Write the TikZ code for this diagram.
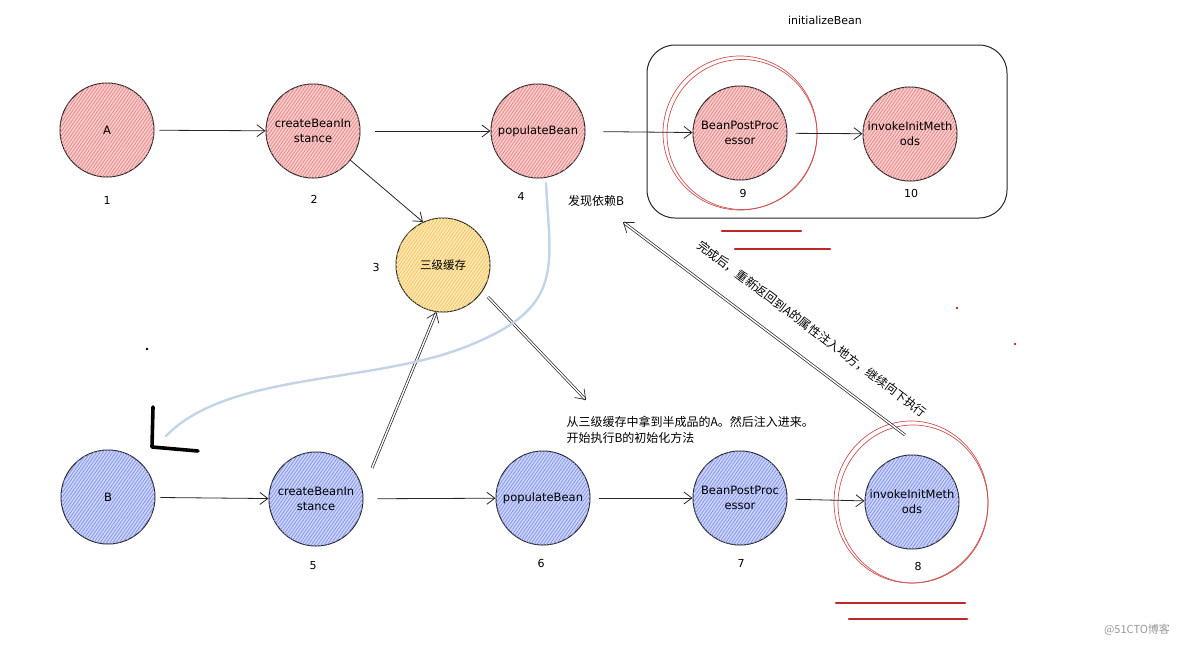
\documentclass[tikz,border=0pt]{standalone}
\usepackage{fontspec}
\setmainfont{DejaVu Sans}
\newfontfamily\cjk{Noto Sans CJK SC}
\usetikzlibrary{arrows.meta,patterns.meta}
\definecolor{fillred}{RGB}{247,205,205}
\definecolor{hatchred}{RGB}{232,130,130}
\definecolor{fillblue}{RGB}{205,212,248}
\definecolor{hatchblue}{RGB}{125,145,235}
\definecolor{fillyel}{RGB}{252,232,180}
\definecolor{hatchyel}{RGB}{245,195,90}
\definecolor{ringred}{RGB}{205,80,80}
\definecolor{barred}{RGB}{190,40,40}
\definecolor{curveblue}{RGB}{196,212,232}
\begin{document}
\begin{tikzpicture}[x=1pt,y=-1pt,
  bean/.style={circle, draw=black!85, line width=1pt, minimum size=94pt, inner sep=0pt,
    align=center, font=\fontsize{11.5}{15}\selectfont},
  nodeA/.style={bean, fill=fillred, postaction={pattern={Lines[angle=55,distance=2.6pt,line width=0.7pt]}, pattern color=hatchred}},
  nodeB/.style={bean, fill=fillblue, postaction={pattern={Lines[angle=55,distance=2.6pt,line width=0.7pt]}, pattern color=hatchblue}},
  nodeY/.style={bean, fill=fillyel, postaction={pattern={Lines[angle=55,distance=2.6pt,line width=0.7pt]}, pattern color=hatchyel}},
  num/.style={font=\fontsize{11}{13}\selectfont},
  arr/.style={-{Straight Barb[length=8pt,width=12pt]}, line width=0.8pt, black!85, shorten <=5pt},
  dbl/.style={-{Straight Barb[length=9pt,width=13pt]}, line width=0.7pt, black!85},
  ring/.style={draw=ringred, line width=0.7pt},
  bar/.style={draw=barred, line width=2.2pt, line cap=round},
  cjktext/.style={font=\cjk\fontsize{12}{16}\selectfont}]
\useasboundingbox (0,0) rectangle (1184,645);

% group frame
\node[draw=black!85, line width=1pt, rounded corners=28pt, minimum width=360pt, minimum height=173pt] (box) at (827,131.5) {};
\node[font=\fontsize{11}{13}\selectfont] (initlbl) at (825,20) {initializeBean};

% row A
\node[nodeA] (n1) at (107,130) {A};
\node[nodeA] (n2) at (313,131) {createBeanIn\\stance};
\node[nodeA] (n4) at (538,131) {populateBean};
\node[nodeA] (n9) at (740,133) {BeanPostProc\\essor};
\node[nodeA] (n10) at (910,134) {invokeInitMeth\\ods};
\node[nodeY] (n3) at (443,265) {\cjk 三级缓存};

% row B
\node[nodeB] (nB) at (108,497) {B};
\node[nodeB] (n5) at (316,499) {createBeanIn\\stance};
\node[nodeB] (n6) at (543,498) {populateBean};
\node[nodeB] (n7) at (740,498) {BeanPostProc\\essor};
\node[nodeB] (n8) at (912,502) {invokeInitMeth\\ods};

% number labels
\node[num] (l1) at (107,200) {1};
\node[num] (l2) at (314,199) {2};
\node[num] (l3) at (376,267) {3};
\node[num] (l4) at (521,196) {4};
\node[num] (l9) at (743,193) {9};
\node[num] (l10) at (911,193) {10};
\node[num] (l5) at (313,566) {5};
\node[num] (l6) at (541,563) {6};
\node[num] (l7) at (741,563) {7};
\node[num] (l8) at (918,566) {8};

% red rings
\draw[ring] (n9) circle[radius=77pt];
\draw[ring] ([shift={(2,1.5)}]n9.center) circle[radius=75pt];
\draw[ring] ([shift={(-1,0)}]n8.center) ellipse[x radius=77pt, y radius=81pt];
\draw[ring] ([shift={(1,2)}]n8.center) ellipse[x radius=75pt, y radius=79pt];

% red bars
\draw[bar] (722,231) -- (801,231);
\draw[bar] (735,249) -- (830,249);
\draw[bar] (836,603) -- (965,603);
\draw[bar] (849,619) -- (967,619);

% texts
\node[cjktext] (ndep) at (596,201) {发现依赖B};
\node[cjktext, anchor=north west, align=left] (ntxt) at (563,413) {从三级缓存中拿到半成品的A。然后注入进来。\\开始执行B的初始化方法};
\node[cjktext, rotate=-37] (ndiag) at (812,329) {完成后，重新返回到A的属性注入地方，继续向下执行};
\node[font=\cjk\fontsize{11}{13}\selectfont, text=black!40] (wm) at (1137,630) {@51CTO博客};

% row A connectors
\draw[arr] (n1) -- (n2);
\draw[arr, shorten <=14pt] (n2) -- (n4);
\draw[arr, shorten <=18pt] (n4) -- (n9);
\draw[arr, shorten <=8pt] (n9) -- (n10);
\draw[arr, shorten <=0pt] (n2.-38) -- (n3.115);

% row B connectors
\draw[arr] (nB) -- (n5);
\draw[arr, shorten <=14pt] (n5) -- (n6);
\draw[arr, shorten <=8pt] (n6) -- (n7);
\draw[arr, shorten <=8pt] (n7) -- (n8);

% double connectors
\coordinate (c5) at (372,468);
\draw[dbl, double, double distance=1.4pt] (c5) -- (n3.-98);
\coordinate (c3) at (488,297);
\coordinate (ctxt) at (586,400);
\draw[dbl, double, double distance=1.4pt] (c3) -- (ctxt);
\coordinate (c8) at (905,435);
\coordinate (cdep) at (623,222);
\draw[dbl, double, double distance=1.4pt] (c8) -- (cdep);

% light blue curve and hand-drawn mark
\coordinate (cstart) at (546,183);
\coordinate (cend) at (166,436);
\draw[curveblue, line width=2.4pt, line cap=round] (cstart) .. controls (550,265) and (565,305) .. (475,343) .. controls (380,385) and (230,370) .. (cend);
\draw[black, line width=3.6pt, line cap=round, line join=round] (153,407) -- (152,447) -- (198,451);

% dots
\fill[black] (147,349) circle[radius=1.4pt];
\fill[barred] (957,308) circle[radius=1.3pt];
\fill[barred] (1015,344) circle[radius=1.3pt];
\end{tikzpicture}
\end{document}
